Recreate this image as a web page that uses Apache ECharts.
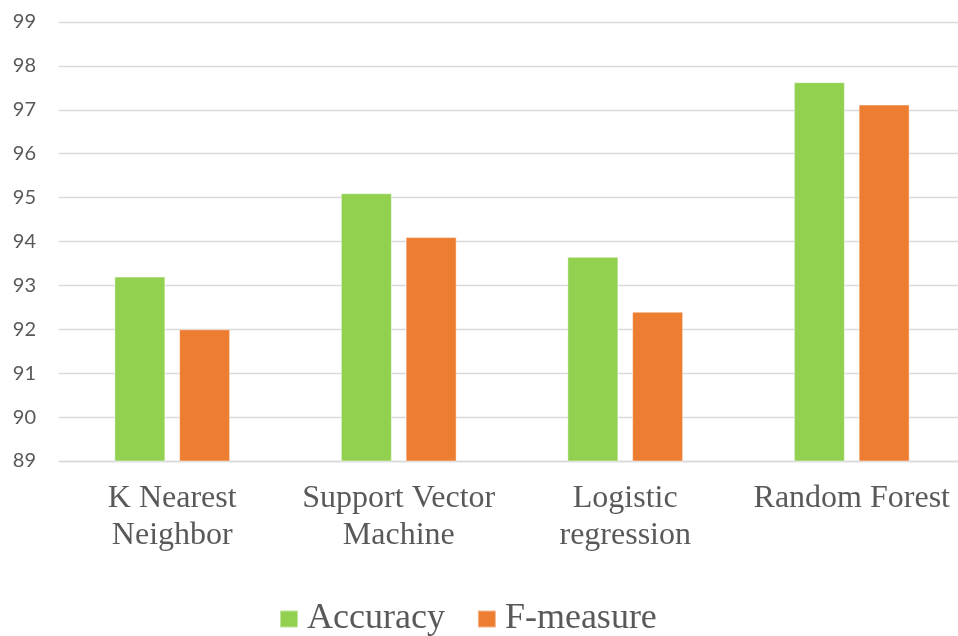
<!DOCTYPE html>
<html>
<head>
<meta charset="utf-8">
<script src="https://cdn.jsdelivr.net/npm/echarts@6/dist/echarts.min.js"></script>
<style>
  html, body { margin: 0; padding: 0; background: #ffffff; overflow: hidden; }
  /* plot area runs slightly past the right edge of the page */
  #chart { width: 965px; height: 636px; }
</style>
</head>
<body>
<div id="chart"></div>
<script>
// Classifier comparison: accuracy vs F-measure (%)
const categories = ['K Nearest\nNeighbor', 'Support Vector\nMachine', 'Logistic\nregression', 'Random Forest'];
const accuracy = [93.2, 95.1, 93.65, 97.63];
const fMeasure = [92.0, 94.1, 92.4, 97.12];
const yTicks = { min: 89, max: 99, step: 1 };

const chart = echarts.init(document.getElementById('chart'), null, { renderer: 'canvas' });

const gridColor = '#d9d9d9';
const textColor = '#595959';

chart.setOption({
  animation: false,
  backgroundColor: '#ffffff',
  grid: { left: 59, top: 22, right: 0, bottom: 175, containLabel: false },
  legend: {
    data: ['Accuracy', 'F-measure'],
    left: 274,
    top: 596,
    itemWidth: 18,
    itemHeight: 17,
    itemGap: 32,
    icon: 'rect',
    textStyle: { fontFamily: 'Liberation Serif', fontSize: 36, color: textColor, padding: [0, 0, 0, 4] }
  },
  xAxis: {
    type: 'category',
    data: categories,
    axisLine: { show: true, lineStyle: { color: gridColor, width: 1.3 } },
    axisTick: { show: false },
    axisLabel: {
      interval: 0,
      margin: 19,
      fontFamily: 'Liberation Serif',
      fontSize: 32,
      lineHeight: 37,
      color: textColor
    }
  },
  yAxis: {
    type: 'value',
    min: yTicks.min,
    max: yTicks.max,
    interval: yTicks.step,
    axisLine: { show: false },
    axisTick: { show: false },
    splitLine: { lineStyle: { color: gridColor, width: 1.3 } },
    axisLabel: { margin: 23, fontFamily: 'Lato', fontSize: 20, color: textColor }
  },
  series: [
    {
      name: 'Accuracy',
      type: 'bar',
      data: accuracy,
      barWidth: 51,
      barGap: '27%',
      itemStyle: { color: '#92D050', borderColor: 'rgba(255,255,255,0.45)', borderWidth: 1 }
    },
    {
      name: 'F-measure',
      type: 'bar',
      data: fMeasure,
      barWidth: 51,
      barGap: '27%',
      itemStyle: { color: '#ED7D31', borderColor: 'rgba(255,255,255,0.45)', borderWidth: 1 }
    }
  ]
});
</script>
</body>
</html>
